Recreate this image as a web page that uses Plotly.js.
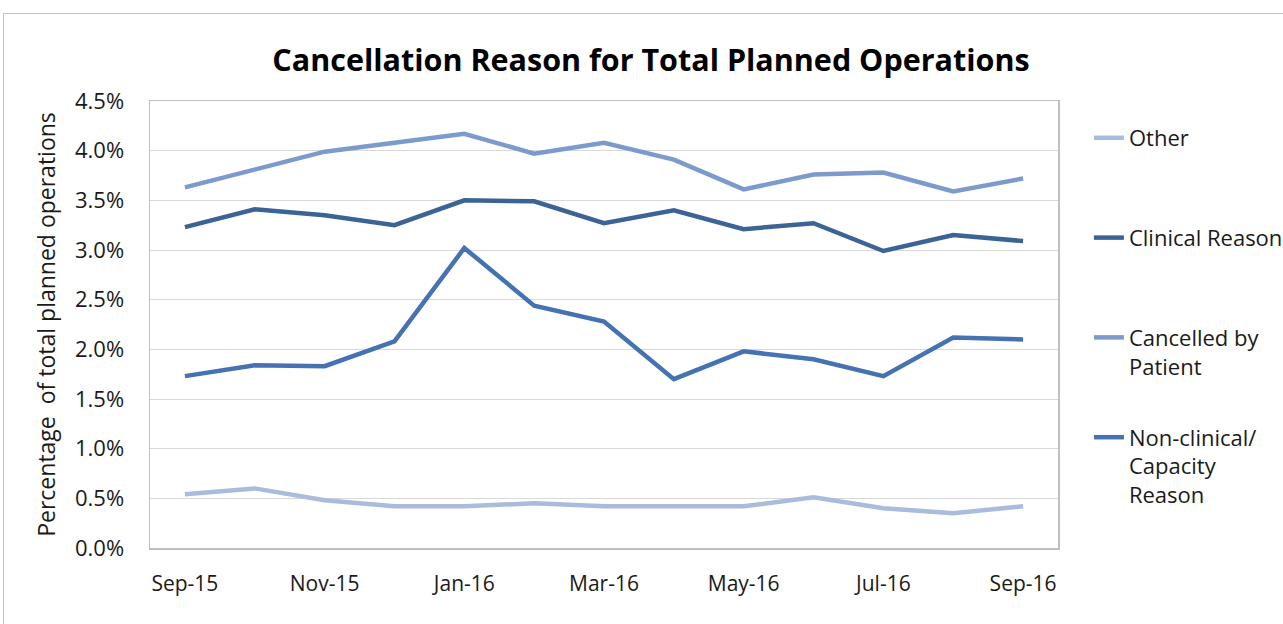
<!DOCTYPE html>
<html>
<head>
<meta charset="utf-8">
<script src="https://cdn.plot.ly/plotly-3.0.1.min.js"></script>
<style>
  html, body { margin: 0; padding: 0; background: #fff; overflow: hidden; }
  #wrap { position: relative; width: 1283px; height: 624px; overflow: hidden; }
  #chart { position: absolute; left: 0; top: 0; }
  .bl { position: absolute; background: #c4c4c4; }
</style>
</head>
<body>
<div id="wrap">
  <div id="chart"></div>
  <div class="bl" style="left:3px;top:13px;width:1px;height:611px;"></div>
  <div class="bl" style="left:3px;top:13px;width:1280px;height:1px;"></div>
</div>
<script>
// ---- data ----
const months = ["Sep-15","Oct-15","Nov-15","Dec-15","Jan-16","Feb-16","Mar-16","Apr-16","May-16","Jun-16","Jul-16","Aug-16","Sep-16"];
const tickMonths = ["Sep-15","Nov-15","Jan-16","Mar-16","May-16","Jul-16","Sep-16"];
const other       = [0.54, 0.60, 0.48, 0.42, 0.42, 0.45, 0.42, 0.42, 0.42, 0.51, 0.40, 0.35, 0.42];
const clinical    = [3.23, 3.41, 3.35, 3.25, 3.50, 3.49, 3.27, 3.40, 3.21, 3.27, 2.99, 3.15, 3.09];
const byPatient   = [3.63, 3.81, 3.99, 4.08, 4.17, 3.97, 4.08, 3.91, 3.61, 3.76, 3.78, 3.59, 3.72];
const nonClinical = [1.73, 1.84, 1.83, 2.08, 3.02, 2.44, 2.28, 1.70, 1.98, 1.90, 1.73, 2.12, 2.10];
const seriesNames = ["Other", "Clinical Reason", "Cancelled by<br>Patient", "Non-clinical/<br>Capacity<br>Reason"];
const seriesColors = ["#a9bcdb", "#3c6396", "#7c9bcc", "#4572b1"];

const FONT = "'Open Sans', 'Noto Sans', sans-serif";
const pct = v => v.map(x => x / 100);
const seriesData = [other, clinical, byPatient, nonClinical];

function padLines(name) {
  const n = name.split("<br>").length;
  let s = name;
  for (let i = n; i < 3; i++) s += "<br>&nbsp;";
  return s;
}

const traces = seriesData.map((vals, i) => ({
  type: "scatter",
  mode: "lines",
  x: months,
  y: pct(vals),
  name: padLines(seriesNames[i]),
  legendgroup: "g" + i,
  line: { color: seriesColors[i], width: 4.5 },
  hoverinfo: "x+y"
}));

const layout = {
  width: 1300,
  height: 624,
  margin: { l: 150, r: 240, t: 101, b: 76, pad: 0 },
  paper_bgcolor: "rgba(0,0,0,0)",
  plot_bgcolor: "#ffffff",
  font: { family: FONT, size: 22, color: "#1a1a1a" },
  title: {
    text: "<b>Cancellation Reason for Total Planned Operations</b>",
    font: { family: FONT, size: 30.5, color: "#000000" },
    x: 651 / 1300, xref: "container", xanchor: "center",
    y: 1 - 60 / 624, yref: "container", yanchor: "middle"
  },
  xaxis: {
    type: "category",
    range: [-0.5, 12.5],
    tickmode: "array",
    tickvals: tickMonths,
    ticktext: tickMonths,
    ticks: "",
    showgrid: false,
    showline: true,
    linecolor: "#bfbfbf",
    linewidth: 1.5,
    mirror: true,
    zeroline: false,
    ticklabelstandoff: 16,
    tickfont: { family: FONT, size: 21, color: "#1a1a1a" }
  },
  yaxis: {
    range: [0, 0.045],
    tickmode: "linear",
    tick0: 0,
    dtick: 0.005,
    tickformat: ".1%",
    ticks: "",
    showgrid: true,
    gridcolor: "#d9d9d9",
    gridwidth: 1,
    showline: true,
    linecolor: "#bfbfbf",
    linewidth: 1.5,
    mirror: true,
    zeroline: false,
    ticklabelstandoff: 20,
    tickfont: { family: FONT, size: 22, color: "#1a1a1a" },
    title: {
      text: "Percentage  of total planned operations",
      font: { family: FONT, size: 23, color: "#1a1a1a" },
      standoff: 13
    }
  },
  showlegend: true,
  legend: {
    x: (1091 - 150) / 910,
    xanchor: "left",
    y: (548 - 117) / 447,
    yanchor: "top",
    bgcolor: "rgba(0,0,0,0)",
    borderwidth: 0,
    font: { family: FONT, size: 22, color: "#1a1a1a" },
    traceorder: "grouped",
    tracegroupgap: 11,
    valign: "top",
    itemclick: false,
    itemdoubleclick: false
  },
  hovermode: false
};

Plotly.newPlot("chart", traces, layout, { displayModeBar: false, staticPlot: true });
</script>
</body>
</html>
